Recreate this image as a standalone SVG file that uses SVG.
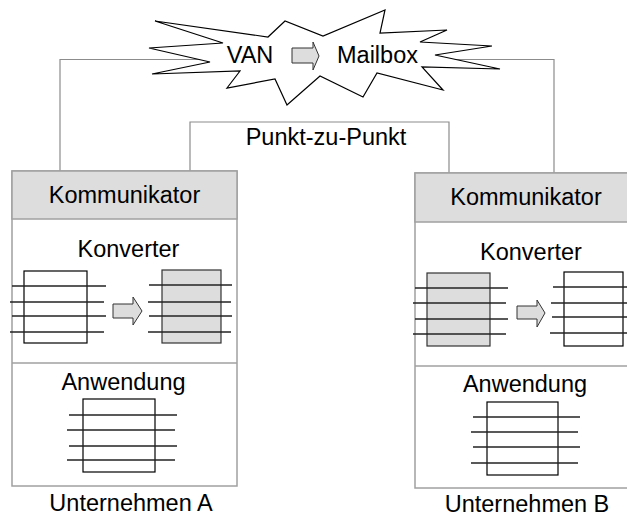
<svg xmlns="http://www.w3.org/2000/svg" width="627" height="518" viewBox="0 0 627 518">
<style>
text{font-family:"Liberation Sans",Arial,sans-serif;font-size:23.5px;fill:#000;text-anchor:middle}
.conn{fill:none;stroke:#8c8c8c;stroke-width:1.2}
.outer{fill:#fff;stroke:#a0a0a0;stroke-width:1.5}
.hdr{fill:#dddddd;stroke:#a0a0a0;stroke-width:1.5}
.doc{fill:#fff;stroke:#000;stroke-width:1.2}
.docg{fill:#dddddd;stroke:#333;stroke-width:1.2}
.ln{stroke:#222;stroke-width:1.3}
.arr{fill:#dddddd;stroke:#333;stroke-width:1}
</style>
<g id="connectors">
<polyline class="conn" points="210,59.5 60,59.5 60,171"/>
<polyline class="conn" points="440,59.5 554,59.5 554,173"/>
<polyline class="conn" points="190,171 190,122 449,122 449,173"/>
</g>
<g id="van">
<polygon fill="#fff" stroke="#000" stroke-width="1.2" points="155,21 268,37 285,21 323,36 385,10 380,33 447,30 420,42 492,46 435,55 500,69 422,67 443,90 377,73 363,97 320,76 287,105 275,79 227,88 240,71 152,74 210,62 149,48 223,43"/>
<text x="250" y="63">VAN</text>
<path class="arr" d="M292,48H313V42L319,56L313,70V63H292Z"/>
<text x="377.5" y="63">Mailbox</text>
</g>
<text id="p2p" x="326" y="145">Punkt-zu-Punkt</text>
<g id="firmaA">
<rect class="outer" x="12" y="171" width="225" height="315"/>
<rect class="hdr" x="12" y="171" width="225" height="48"/>
<text x="124.5" y="203">Kommunikator</text>
<line x1="12" y1="363" x2="237" y2="363" stroke="#a0a0a0" stroke-width="1.5"/>
<text x="128.5" y="257">Konverter</text>
<rect class="doc" x="24" y="271" width="63" height="72"/>
<line class="ln" x1="12" y1="286" x2="106" y2="286"/>
<line class="ln" x1="10" y1="302" x2="104" y2="302"/>
<line class="ln" x1="12" y1="316" x2="106" y2="316"/>
<line class="ln" x1="10" y1="332" x2="104" y2="332"/>
<path class="arr" d="M113,304H133V297L142,311L133,325V318H113Z"/>
<rect class="docg" x="162" y="270" width="59" height="73"/>
<line class="ln" x1="149" y1="285" x2="232" y2="285"/>
<line class="ln" x1="148" y1="302" x2="231" y2="302"/>
<line class="ln" x1="149" y1="316" x2="232" y2="316"/>
<line class="ln" x1="148" y1="332" x2="231" y2="332"/>
<text x="123.5" y="390">Anwendung</text>
<rect class="doc" x="83" y="399" width="72" height="73"/>
<line class="ln" x1="69" y1="415" x2="177" y2="415"/>
<line class="ln" x1="67" y1="430" x2="175" y2="430"/>
<line class="ln" x1="69" y1="446" x2="177" y2="446"/>
<line class="ln" x1="67" y1="460" x2="175" y2="460"/>
<text x="131" y="511">Unternehmen A</text>
</g>
<g id="firmaB">
<rect class="outer" x="415" y="173" width="222" height="315"/>
<rect class="hdr" x="415" y="173" width="222" height="49"/>
<text x="526" y="205">Kommunikator</text>
<line x1="415" y1="366" x2="637" y2="366" stroke="#a0a0a0" stroke-width="1.5"/>
<text x="531" y="260">Konverter</text>
<rect class="docg" x="427" y="273" width="63" height="73"/>
<line class="ln" x1="415" y1="288" x2="508" y2="288"/>
<line class="ln" x1="413" y1="303" x2="506" y2="303"/>
<line class="ln" x1="415" y1="319" x2="508" y2="319"/>
<line class="ln" x1="413" y1="334" x2="506" y2="334"/>
<path class="arr" d="M517,306H537V300L545,313L537,327V319H517Z"/>
<rect class="doc" x="564" y="272" width="59" height="74"/>
<line class="ln" x1="553" y1="287" x2="630" y2="287"/>
<line class="ln" x1="551" y1="303" x2="630" y2="303"/>
<line class="ln" x1="552" y1="317" x2="630" y2="317"/>
<line class="ln" x1="550" y1="333" x2="630" y2="333"/>
<text x="525" y="392">Anwendung</text>
<rect class="doc" x="487" y="402" width="71" height="73"/>
<line class="ln" x1="473" y1="417" x2="580" y2="417"/>
<line class="ln" x1="471" y1="432" x2="578" y2="432"/>
<line class="ln" x1="473" y1="447" x2="580" y2="447"/>
<line class="ln" x1="471" y1="463" x2="578" y2="463"/>
<text x="527" y="512">Unternehmen B</text>
</g>
</svg>
